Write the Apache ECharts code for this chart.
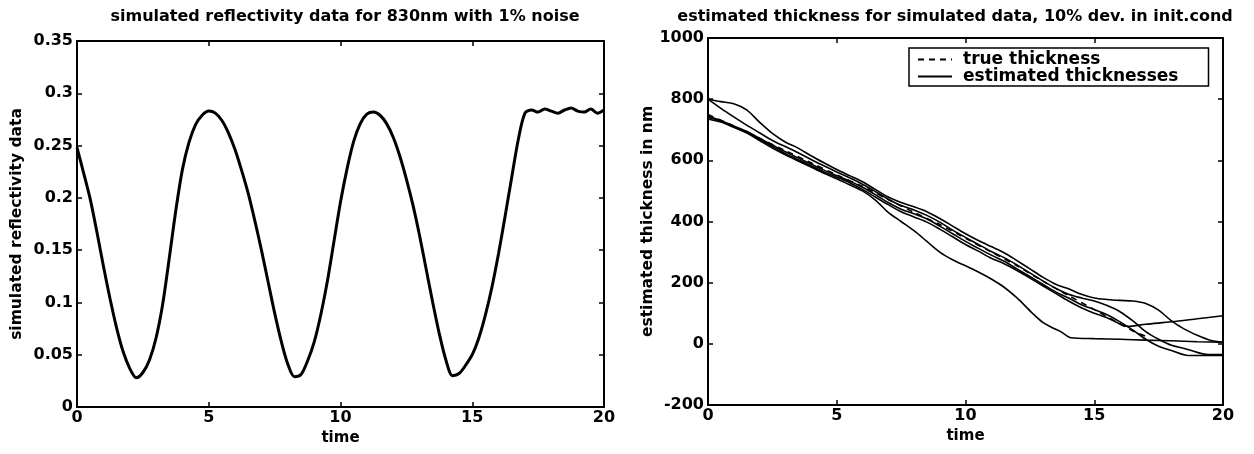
<!DOCTYPE html>
<html>
<head>
<meta charset="utf-8">
<script src="https://cdn.jsdelivr.net/npm/echarts@6/dist/echarts.min.js"></script>
<style>
  html, body { margin: 0; padding: 0; background: #fff; }
  #chart { width: 1254px; height: 454px; }
</style>
</head>
<body>
<div id="chart"></div>
<script>
// left panel: simulated reflectivity
var timeR = [0,0.25,0.5,0.75,1,1.25,1.5,1.75,2,2.25,2.5,2.75,3,3.25,3.5,3.75,4,4.25,4.5,4.75,5,5.25,5.5,5.75,6,6.25,6.5,6.75,7,7.25,7.5,7.75,8,8.25,8.5,8.75,9,9.25,9.5,9.75,10,10.25,10.5,10.75,11,11.25,11.5,11.75,12,12.25,12.5,12.75,13,13.25,13.5,13.75,14,14.25,14.5,14.75,15,15.25,15.5,15.75,16,16.25,16.5,16.75,17,17.25,17.5,17.75,18,18.25,18.5,18.75,19,19.25,19.5,19.75,20];
var reflect = [0.248,0.224,0.199,0.168,0.135,0.104,0.076,0.053,0.037,0.028,0.033,0.045,0.066,0.098,0.142,0.188,0.227,0.253,0.270,0.279,0.283,0.281,0.274,0.262,0.246,0.226,0.204,0.178,0.150,0.120,0.090,0.063,0.041,0.029,0.031,0.044,0.062,0.088,0.120,0.158,0.196,0.228,0.254,0.271,0.280,0.282,0.279,0.271,0.258,0.240,0.218,0.193,0.164,0.132,0.100,0.070,0.045,0.030,0.032,0.040,0.050,0.066,0.088,0.115,0.147,0.183,0.220,0.256,0.281,0.284,0.282,0.285,0.283,0.281,0.284,0.286,0.283,0.282,0.285,0.281,0.284];

// right panel: true and estimated thickness
var tTrue = [0,1,2,3,4,5,6,7,8,9,10,11,12,13,14,15,16,16.5,17];
var thTrue = [750,712,672,632,592,552,515,472,430,390,345,300,255,205,158,112,65,42,25];

var tEst1 = [0,0.5,1,1.5,2,2.5,3,3.5,4,4.5,5,5.5,6,6.5,7,7.5,8,8.5,9,9.5,10,10.5,11,11.5,12,12.5,13,13.5,14,14.5,15,15.5,16,16.5,17,17.5,18,18.5,19,19.5,20];
var thEst1 = [800,792,785,765,725,688,660,640,615,592,570,550,530,505,480,462,448,432,410,385,360,338,318,298,272,245,218,195,180,162,150,145,142,140,132,110,75,48,28,12,5];
var tEst2 = [0,0.5,1,1.5,2,2.5,3,3.5,4,4.5,5,5.5,6,6.5,7,7.5,8,8.5,9,9.5,10,10.5,11,11.5,12,12.5,13,13.5,14,14.5,15,15.5,16,16.5,17,17.5,18,18.5,19,19.4,20];
var thEst2 = [800,770,742,715,690,665,645,625,603,582,562,543,522,498,473,452,438,420,398,372,348,325,302,282,258,232,206,182,162,150,140,125,105,75,40,15,-5,-15,-28,-35,-35];
var tEst3 = [0,0.5,1,1.5,2,2.5,3,3.5,4,4.5,5,5.5,6,6.5,7,7.5,8,8.5,9,9.5,10,10.5,11,11.5,12,12.5,13,13.5,14,14.5,15,15.5,16,16.5,17,17.5,18,18.65,20];
var thEst3 = [745,730,712,695,672,650,628,608,588,568,550,532,512,488,462,440,425,408,385,360,335,312,290,270,245,220,195,170,150,128,112,95,72,45,15,-8,-22,-38,-38];
var tEst4 = [0,0.5,1,1.5,2,2.5,3,3.5,4,4.5,5,5.5,6,6.5,7,7.5,8,8.5,9,9.5,10,10.5,11,11.5,12,12.5,13,13.5,14,14.5,15,15.5,16,16.3,17,18,19,20];
var thEst4 = [735,725,708,690,668,645,622,602,582,562,545,527,505,480,455,432,415,398,375,350,325,303,280,262,240,215,190,165,140,118,100,85,65,57,64,72,82,92];
var tEst5 = [0,0.5,1,1.5,2,2.5,3,3.5,4,4.5,5,5.5,6,6.5,7,7.5,8,8.5,9,9.5,10,10.5,11,11.5,12,12.6,13,13.3,13.7,14.1,15,16,17,18,19,20];
var thEst5 = [740,728,710,690,665,640,618,598,578,558,540,520,500,470,430,400,370,335,300,275,255,235,212,185,150,100,70,56,40,20,17,15,12,10,7,5];

function pairs(xs, ys) {
  return xs.map(function (x, i) { return [x, ys[i]]; });
}

var font = '"DejaVu Sans", sans-serif';
var lbl = { color: '#000', fontFamily: font, fontWeight: 'bold', fontSize: 16 };

function xAx(grid, show) {
  return {
    type: 'value', gridIndex: grid, min: 0, max: 20, interval: 5,
    position: show ? 'bottom' : 'top',
    name: show ? 'time' : '', nameLocation: 'middle', nameGap: 23,
    nameTextStyle: { color: '#000', fontFamily: font, fontWeight: 'bold', fontSize: 15 },
    axisLine: { onZero: false, lineStyle: { color: '#000', width: 2 } },
    axisTick: { inside: true, length: 5, lineStyle: { color: '#000', width: 1.5 } },
    axisLabel: Object.assign({ show: show, margin: 3 }, lbl),
    splitLine: { show: false }
  };
}
function yAx(grid, show, min, max, step, name, gap, fmt) {
  return {
    type: 'value', gridIndex: grid, min: min, max: max, interval: step,
    position: show ? 'left' : 'right',
    name: show ? name : '', nameLocation: 'middle', nameGap: gap,
    nameTextStyle: { color: '#000', fontFamily: font, fontWeight: 'bold', fontSize: 15.5 },
    axisLine: { onZero: false, lineStyle: { color: '#000', width: 2 } },
    axisTick: { inside: true, length: 5, lineStyle: { color: '#000', width: 1.5 } },
    axisLabel: Object.assign({ show: show, margin: 4, formatter: fmt }, lbl),
    splitLine: { show: false }
  };
}

function estLine(xs, ys) {
  return {
    name: 'estimated thicknesses', type: 'line', xAxisIndex: 2, yAxisIndex: 2,
    data: pairs(xs, ys), showSymbol: false, symbol: 'none', smooth: 0.3,
    itemStyle: { color: '#000' },
    lineStyle: { color: '#000', width: 1.6 }, z: 3
  };
}

var chart = echarts.init(document.getElementById('chart'));
chart.setOption({
  animation: false,
  backgroundColor: '#fff',
  title: [
    { text: 'simulated reflectivity data for 830nm with 1% noise', left: 340, top: 4, textAlign: 'center',
      textStyle: { color: '#000', fontFamily: font, fontWeight: 'bold', fontSize: 16 } },
    { text: 'estimated thickness for simulated data, 10% dev. in init.cond', left: 950, top: 4, textAlign: 'center',
      textStyle: { color: '#000', fontFamily: font, fontWeight: 'bold', fontSize: 16 } }
  ],
  grid: [
    { left: 77, right: 650, top: 41, bottom: 47 },
    { left: 708, right: 31, top: 38, bottom: 49 }
  ],
  legend: {
    left: 909, top: 48, orient: 'vertical', itemGap: 0, itemWidth: 34, itemHeight: 12,
    padding: [3, 30, 1, 8], borderColor: '#000', borderWidth: 1.5, backgroundColor: '#fff',
    itemStyle: { opacity: 0 },
    textStyle: { color: '#000', fontFamily: font, fontWeight: 'bold', fontSize: 17, lineHeight: 15, padding: [0, 0, 0, 6] },
    data: ['true thickness', 'estimated thicknesses']
  },
  xAxis: [xAx(0, true), xAx(0, false), xAx(1, true), xAx(1, false)],
  yAxis: [
    yAx(0, true, 0, 0.35, 0.05, 'simulated reflectivity data', 52, function (v) { return String(+v.toFixed(2)); }),
    yAx(0, false, 0, 0.35, 0.05),
    yAx(1, true, -200, 1000, 200, 'estimated thickness in nm', 50, function (v) { return String(v); }),
    yAx(1, false, -200, 1000, 200)
  ],
  series: [
    {
      name: 'reflectivity', type: 'line', xAxisIndex: 0, yAxisIndex: 0,
      data: pairs(timeR, reflect), showSymbol: false, symbol: 'none', smooth: 0.3,
      itemStyle: { color: '#000' },
      lineStyle: { color: '#000', width: 3 }
    },
    {
      name: 'true thickness', type: 'line', xAxisIndex: 2, yAxisIndex: 2,
      data: pairs(tTrue, thTrue), showSymbol: false, symbol: 'none', smooth: 0.3,
      itemStyle: { color: '#000' },
      lineStyle: { color: '#000', width: 1.6, type: [6, 5] }, z: 2
    },
    estLine(tEst1, thEst1),
    estLine(tEst2, thEst2),
    estLine(tEst3, thEst3),
    estLine(tEst4, thEst4),
    estLine(tEst5, thEst5)
  ]
});
</script>
</body>
</html>
